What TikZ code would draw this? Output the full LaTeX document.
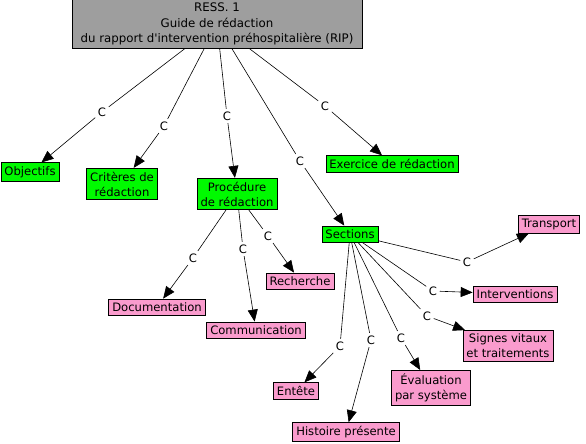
\documentclass[tikz,border=0pt]{standalone}
\usepackage{fontspec}
\setmainfont{DejaVu Sans}
\usetikzlibrary{arrows.meta}
\definecolor{topicgreen}{RGB}{0,250,0}
\definecolor{leafpink}{RGB}{250,155,205}
\definecolor{rootgray}{RGB}{158,158,158}

\begin{document}
\begin{tikzpicture}[x=1pt, y=-1pt,
  concept/.style={draw, line width=0.8pt, align=center, inner xsep=3.5pt, inner ysep=3.5pt,
                  font=\fontsize{11.6}{15}\selectfont},
  topic/.style={concept, fill=topicgreen},
  leaf/.style={concept, fill=leafpink},
  lnk/.style={inner sep=2.5pt, font=\fontsize{11.6}{13}\selectfont},
  seg/.style={line width=0.6pt},
  arr/.style={-{Triangle[length=12pt,width=10pt]}, line width=0.6pt}
]
\useasboundingbox (0,0) rectangle (586,444);

% concepts
\node[draw, line width=0.8pt, align=center, fill=rootgray, minimum width=290pt,
      minimum height=49pt, inner sep=2pt, font=\fontsize{11.8}{15.5}\selectfont] (ress) at (217,24)
  {RESS. 1\\Guide de rédaction\\du rapport d\textquotesingle intervention préhospitalière (RIP)};
\node[topic] (objectifs) at (30,172) {Objectifs};
\node[topic] (criteres) at (122,184) {Critères de\\rédaction};
\node[topic] (procedure) at (237,194) {Procédure\\de rédaction};
\node[topic] (exercice) at (392,164) {Exercice de rédaction};
\node[topic] (sections) at (350,234) {Sections};
\node[leaf] (recherche) at (300,281) {Recherche};
\node[leaf] (documentation) at (157,307) {Documentation};
\node[leaf] (communication) at (256,330) {Communication};
\node[leaf] (transport) at (549,224) {Transport};
\node[leaf] (interventions) at (515,294) {Interventions};
\node[leaf] (signes) at (508,346) {Signes vitaux\\et traitements};
\node[leaf] (evaluation) at (431,388) {Évaluation\\par système};
\node[leaf] (entete) at (296,391) {Entête};
\node[leaf] (histoire) at (346,432) {Histoire présente};

% link labels
\node[lnk] (cobj) at (102,112) {C};
\node[lnk] (ccri) at (164,126) {C};
\node[lnk] (cpro) at (227,116) {C};
\node[lnk] (csec) at (300,161) {C};
\node[lnk] (cexe) at (325,106) {C};
\node[lnk] (cdoc) at (193,258) {C};
\node[lnk] (ccom) at (243,249) {C};
\node[lnk] (crec) at (268,236) {C};
\node[lnk] (ctra) at (467,262) {C};
\node[lnk] (cint) at (433,291) {C};
\node[lnk] (csig) at (427,316) {C};
\node[lnk] (cent) at (340,346) {C};
\node[lnk] (chis) at (371,340) {C};
\node[lnk] (ceva) at (401,338) {C};

% connectors
\draw[seg] (ress) -- (cobj);  \draw[arr] (cobj) -- (objectifs);
\draw[seg] (ress) -- (ccri);  \draw[arr] (ccri) -- (criteres);
\draw[seg] (ress) -- (cpro);  \draw[arr] (cpro) -- (procedure);
\draw[seg] (ress) -- (csec);  \draw[arr] (csec) -- (sections);
\draw[seg] (ress) -- (cexe);  \draw[arr] (cexe) -- (exercice);
\draw[seg] (procedure) -- (cdoc);  \draw[arr] (cdoc) -- (documentation);
\draw[seg] (procedure) -- (ccom);  \draw[arr] (ccom) -- (communication);
\draw[seg] (procedure) -- (crec);  \draw[arr] (crec) -- (recherche);
\draw[seg] (sections) -- (ctra);  \draw[arr] (ctra) -- (transport);
\draw[seg] (sections) -- (cint);  \draw[arr] (cint) -- (interventions);
\draw[seg] (sections) -- (csig);  \draw[arr] (csig) -- (signes);
\draw[seg] (sections) -- (cent);  \draw[arr] (cent) -- (entete);
\draw[seg] (sections) -- (chis);  \draw[arr] (chis) -- (histoire);
\draw[seg] (sections) -- (ceva);  \draw[arr] (ceva) -- (evaluation);
\end{tikzpicture}
\end{document}
